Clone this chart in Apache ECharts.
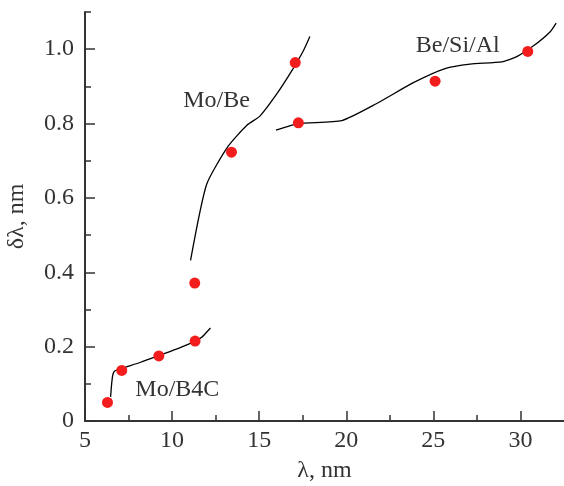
<!DOCTYPE html>
<html lang="en">
  <head>
    <meta charset="UTF-8" />
    <title>dlambda</title>
    <style>
      html,
      body {
        margin: 0;
        padding: 0;
        background: #fff;
      }
      #main {
        width: 564px;
        height: 486px;
      }
    </style>
  </head>
  <body>
    <div id="main"></div>
    <script src="https://cdn.jsdelivr.net/npm/echarts@6/dist/echarts.min.js"></script>
    <script>
      // measured points (red dots)
      const dotsX = [6.29, 7.11, 9.24, 11.32, 11.3, 13.41, 17.07, 17.25, 25.1, 30.42];
      const dotsY = [0.05, 0.136, 0.175, 0.215, 0.371, 0.723, 0.964, 0.802, 0.914, 0.994];

      // calculated curves
      const moB4cX = [6.47, 6.53, 6.6, 6.72, 7.2, 8.2, 9.3, 10.5, 11.3, 11.7, 12.2];
      const moB4cY = [0.065, 0.1, 0.125, 0.135, 0.143, 0.158, 0.177, 0.198, 0.214, 0.225, 0.25];

      const moBeX = [11.06, 11.98, 13.22, 14.31, 15.04, 16.0, 16.86, 17.53, 17.91];
      const moBeY = [0.432, 0.636, 0.739, 0.796, 0.82, 0.879, 0.941, 0.995, 1.034];

      const beSiAlX = [15.96, 17.24, 19.74, 21.75, 23.85, 25.67, 27.11, 28.93, 29.79, 30.75, 31.71, 32.05];
      const beSiAlY = [0.782, 0.8, 0.808, 0.854, 0.91, 0.948, 0.96, 0.966, 0.98, 1.009, 1.047, 1.07];

      // curve labels
      const labelNames = ["Mo/Be", "Be/Si/Al", "Mo/B4C"];
      const labelX = [12.55, 26.4, 10.3];
      const labelY = [0.862, 1.01, 0.085];

      // ticks
      const xMajor = [5, 10, 15, 20, 25, 30];
      const xMinor = [7.5, 12.5, 17.5, 22.5, 27.5];
      const yMajor = [0, 0.2, 0.4, 0.6, 0.8, 1.0];
      const yMinor = [0.1, 0.3, 0.5, 0.7, 0.9, 1.1];

      const zip = (a, b) => a.map((v, i) => [v, b[i]]);
      const ink = "#333";
      const font = "'Liberation Serif', 'Times New Roman', Times, serif";

      const chart = echarts.init(document.getElementById("main"));

      const baseX = {
        type: "value",
        min: 5,
        max: 32.5,
        splitLine: { show: false },
      };
      const baseY = {
        type: "value",
        min: 0,
        max: 1.1,
        splitLine: { show: false },
      };

      const option = {
        animation: false,
        grid: { left: 85, right: 0, top: 12, bottom: 65, outerBoundsMode: "none" },
        xAxis: [
          {
            ...baseX,
            name: "λ, nm",
            nameLocation: "middle",
            nameGap: 38,
            nameTextStyle: { fontFamily: font, fontSize: 24, color: ink },
            axisLine: { lineStyle: { color: ink, width: 2 } },
            axisTick: { inside: true, length: 10, customValues: xMajor, lineStyle: { color: ink, width: 1.5 } },
            axisLabel: {
              customValues: xMajor,
              margin: 8,
              fontFamily: font,
              fontSize: 24,
              color: ink,
            },
          },
          {
            ...baseX,
            position: "bottom",
            axisLine: { show: false },
            axisTick: { inside: true, length: 6, customValues: xMinor, lineStyle: { color: ink, width: 1.5 } },
            axisLabel: { show: false },
          },
        ],
        yAxis: [
          {
            ...baseY,
            name: "δλ, nm",
            nameLocation: "middle",
            nameGap: 56,
            nameTextStyle: { fontFamily: font, fontSize: 24, color: ink },
            axisLine: { lineStyle: { color: ink, width: 2 } },
            axisTick: { inside: true, length: 10, customValues: yMajor, lineStyle: { color: ink, width: 1.5 } },
            axisLabel: {
              customValues: yMajor,
              margin: 11,
              fontFamily: font,
              fontSize: 24,
              color: ink,
              formatter: (v) => (v === 0 ? "0" : v.toFixed(1)),
            },
          },
          {
            ...baseY,
            position: "left",
            axisLine: { show: false },
            axisTick: { inside: true, length: 6, customValues: yMinor, lineStyle: { color: ink, width: 1.5 } },
            axisLabel: { show: false },
          },
        ],
        series: [
          {
            type: "line",
            data: zip(moB4cX, moB4cY),
            showSymbol: false,
            smooth: 0.2,
            lineStyle: { color: "#000", width: 1.3 },
          },
          {
            type: "line",
            data: zip(moBeX, moBeY),
            showSymbol: false,
            smooth: 0.2,
            lineStyle: { color: "#000", width: 1.3 },
          },
          {
            type: "line",
            data: zip(beSiAlX, beSiAlY),
            showSymbol: false,
            smooth: 0.2,
            lineStyle: { color: "#000", width: 1.3 },
          },
          {
            type: "scatter",
            data: zip(dotsX, dotsY),
            symbolSize: 11,
            itemStyle: { color: "#f41d1d", opacity: 1 },
            z: 5,
          },
          {
            type: "scatter",
            symbolSize: 0,
            itemStyle: { opacity: 1 },
            data: labelNames.map((n, i) => ({ name: n, value: [labelX[i], labelY[i]] })),
            label: {
              show: true,
              position: "inside",
              formatter: "{b}",
              fontFamily: font,
              fontSize: 24,
              color: ink,
            },
          },
        ],
      };
      chart.setOption(option);
    </script>
  </body>
</html>
